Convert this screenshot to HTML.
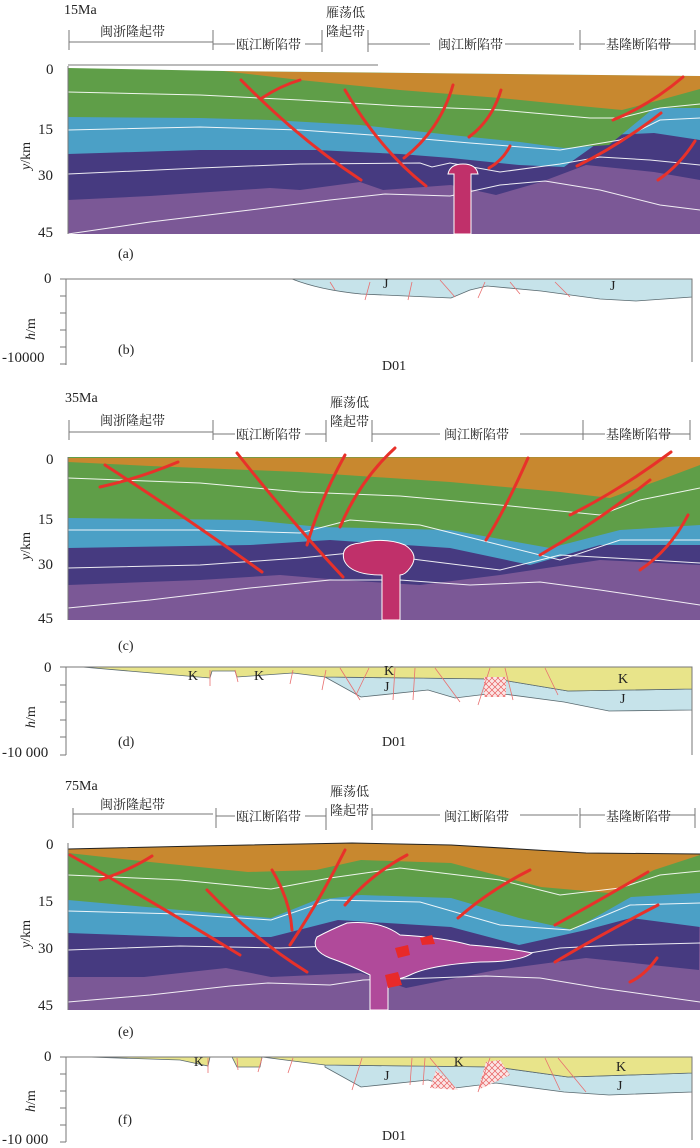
<!DOCTYPE html>
<html><head><meta charset="utf-8">
<style>
html,body{margin:0;padding:0;background:#fff;}
svg{display:block;}
text{font-family:"Liberation Serif","Noto Serif CJK SC",serif;fill:#222;}
.cn{font-size:13px;}
.tk{font-size:15px;}
.lb{font-size:14px;}
.fault{stroke:#e8312a;stroke-width:3;fill:none;stroke-linecap:round;}
.wl{stroke:#fff;stroke-width:1;fill:none;opacity:.9;}
.ax{stroke:#777;stroke-width:1;fill:none;}
.sf{stroke:#e87070;stroke-width:.8;fill:none;}
</style></head><body>
<svg width="700" height="1148" viewBox="0 0 700 1148" xmlns="http://www.w3.org/2000/svg">
<defs>
<pattern id="hx" width="6" height="6" patternUnits="userSpaceOnUse"><rect width="6" height="6" fill="#fbe6e6"/><path d="M0 0L6 6M6 0L0 6" stroke="#e86060" stroke-width=".7"/></pattern>
</defs>

<!-- ============ PANEL A header ============ -->
<text x="64" y="14" class="lb">15Ma</text>
<g class="ax" stroke="#888">
<path d="M69 30V50M213 30V50M322 30V52M368 30V52M580 30V50M695 30V50"/>
<path d="M69 42H213M213 44H235M305 44H322M368 44H430M505 44H574M580 44H605M658 44H695"/>
</g>
<text x="100" y="36" class="cn">闽浙隆起带</text>
<text x="236" y="49" class="cn">瓯江断陷带</text>
<text x="326" y="17" class="cn">雁荡低</text>
<text x="326" y="36" class="cn">隆起带</text>
<text x="438" y="49" class="cn">闽江断陷带</text>
<text x="606" y="49" class="cn">基隆断陷带</text>
<path d="M68 65H378" class="ax"/>

<!-- Section (a) -->
<g>
<rect x="68" y="67" width="632" height="167" fill="#7b5896"/>
<path d="M68 200 L150 196 L270 188 L300 190 L360 182 L383 190 L451 185 L496 195 L541 182 L586 165 L654 172 L700 180 L700 67 L68 67Z" fill="#463a80"/>
<path d="M68 154 L200 150 L316 150 L400 154 L451 158 L519 165 L564 167 L609 135 L654 133 L700 140 L700 67 L68 67Z" fill="#4ba0c6"/>
<path d="M68 117 L200 118 L270 120 L360 125 L451 135 L520 142 L564 148 L609 145 L654 108 L700 108 L700 67 L68 67Z" fill="#5f9e48"/>
<path d="M223 71 L300 80 L400 90 L500 98 L580 106 L622 110 L660 100 L700 89 L700 76 L500 74 L300 72Z" fill="#c8882f"/>
<path d="M68 68 L223 71 L700 76 L700 67 L68 67Z" fill="#fff"/>
<g class="wl">
<path d="M68 92 L200 95 L300 100 L400 106 L500 110 L590 118 L620 118 L660 108 L700 104"/>
<path d="M68 130 L200 127 L300 130 L400 137 L470 143 L560 150 L620 140 L660 120 L700 118"/>
<path d="M68 174 L200 168 L300 164 L420 163 L432 167 L450 163 L500 172 L560 164 L600 157 L650 160 L700 165"/>
<path d="M68 234 L150 222 L250 210 L330 200 L385 194 L450 196 L500 185 L545 181 L600 190 L660 205 L700 210"/>
</g>
<path d="M454 234 V174 H448 Q450 164 463 164 Q476 164 478 174 H471 V234Z" fill="#c0306a" stroke="#fff" stroke-width="1"/>
<g class="fault">
<path d="M241 80 Q300 140 361 180"/>
<path d="M262 98 Q280 86 300 80"/>
<path d="M345 90 Q380 150 426 186"/>
<path d="M453 85 Q440 130 404 158"/>
<path d="M501 90 Q492 120 469 137"/>
<path d="M510 146 Q503 160 489 168"/>
<path d="M683 77 Q650 105 613 120"/>
<path d="M661 113 Q620 145 577 166"/>
<path d="M695 141 Q680 165 658 180"/>
</g>
<path d="M68 66 V234" class="ax"/>
</g>
<text x="46" y="74" class="tk">0</text>
<text x="38" y="134" class="tk">15</text>
<text x="38" y="180" class="tk">30</text>
<text x="38" y="237" class="tk">45</text>
<text transform="translate(30 170) rotate(-90)" class="lb"><tspan font-style="italic">y</tspan>/km</text>
<text x="118" y="258" class="lb">(a)</text>

<!-- Profile (b) -->
<path d="M292 279 Q320 290 361 294 L451 298 L470 290 L487 286 L541 291 L600 299 L636 301 L692 297 L692 279Z" fill="#c6e3ea" stroke="#5a6a70" stroke-width=".8"/>
<g class="ax"><path d="M66 279 H692 V362 M66 279 V365 M60 279H66M60 296H66M60 313H66M60 330H66M60 347H66M60 364H66"/></g>
<g class="sf"><path d="M330 282 L335 290M370 282 L365 300M412 282 L408 300M440 280 L455 297M485 282 L478 298M510 282 L520 294M555 282 L570 297"/></g>
<text x="44" y="283" class="tk">0</text>
<text x="2" y="362" class="tk">-10000</text>
<text x="383" y="288" class="lb">J</text>
<text x="610" y="290" class="lb">J</text>
<text transform="translate(35 340) rotate(-90)" class="lb"><tspan font-style="italic">h</tspan>/m</text>
<text x="118" y="354" class="lb">(b)</text>
<text x="382" y="370" class="lb">D01</text>

<!-- ============ PANEL C header ============ -->
<text x="65" y="402" class="lb">35Ma</text>
<g class="ax" stroke="#888">
<path d="M69 420V440M213 420V440M326 420V442M372 420V442M583 420V440M690 420V440"/>
<path d="M69 432H213M213 434H235M305 434H326M372 434H440M520 434H583M583 434H605M660 434H690"/>
</g>
<text x="100" y="425" class="cn">闽浙隆起带</text>
<text x="236" y="439" class="cn">瓯江断陷带</text>
<text x="330" y="407" class="cn">雁荡低</text>
<text x="330" y="426" class="cn">隆起带</text>
<text x="444" y="439" class="cn">闽江断陷带</text>
<text x="606" y="439" class="cn">基隆断陷带</text>

<!-- Section (c) -->
<g>
<rect x="68" y="457" width="632" height="163" fill="#7b5896"/>
<path d="M68 585 L200 580 L280 575 L340 580 L420 585 L500 575 L600 560 L700 565 L700 457 L68 457Z" fill="#463a80"/>
<path d="M68 548 L250 545 L330 540 L450 548 L530 565 L600 545 L700 545 L700 457 L68 457Z" fill="#4ba0c6"/>
<path d="M68 518 L250 520 L320 527 L450 530 L550 548 L620 530 L700 525 L700 457 L68 457Z" fill="#5f9e48"/>
<path d="M68 458 L68 462 L150 466 L300 472 L450 482 L560 492 L610 498 L660 480 L700 465 L700 457Z" fill="#c8882f"/>
<g class="wl">
<path d="M68 478 L200 483 L300 492 L400 496 L500 505 L600 515 L640 500 L700 488"/>
<path d="M68 530 L200 530 L300 533 L350 520 L420 525 L500 545 L560 560 L620 540 L700 540"/>
<path d="M68 568 L200 565 L300 558 L360 552 L420 560 L500 570 L560 555 L650 560 L700 563"/>
<path d="M68 608 L150 600 L250 588 L330 580 L400 580 L470 585 L540 582 L600 590 L700 605"/>
</g>
<path d="M382 620 V575 Q350 575 344 560 Q340 545 360 543 Q385 537 405 545 Q420 555 410 568 Q405 575 400 575 V620Z" fill="#c0306a" stroke="#fff" stroke-width="1"/>
<g class="fault">
<path d="M105 465 Q190 520 262 572"/>
<path d="M100 487 Q140 478 178 462"/>
<path d="M237 453 Q290 520 343 577"/>
<path d="M345 455 Q320 500 307 545"/>
<path d="M395 448 Q360 480 340 527"/>
<path d="M528 458 Q505 510 486 540"/>
<path d="M671 452 Q620 490 570 515"/>
<path d="M650 480 Q600 520 540 555"/>
<path d="M688 515 Q670 550 640 570"/>
</g>
<path d="M68 457 V620" class="ax"/>
</g>
<text x="46" y="464" class="tk">0</text>
<text x="38" y="524" class="tk">15</text>
<text x="38" y="569" class="tk">30</text>
<text x="38" y="623" class="tk">45</text>
<text transform="translate(30 560) rotate(-90)" class="lb"><tspan font-style="italic">y</tspan>/km</text>
<text x="118" y="650" class="lb">(c)</text>

<!-- Profile (d) -->
<path d="M325 677 L361 697 L428 690 L455 698 L496 693 L564 702 L609 711 L692 710 L692 689 L568 691 L496 679 L325 677Z" fill="#c6e3ea" stroke="#5a6a70" stroke-width=".8"/>
<path d="M82 667 L210 678 L212 671 L235 671 L237 677 L293 673 L325 677 L496 679 L568 691 L692 689 L692 667Z" fill="#e8e48a" stroke="#5a6a70" stroke-width=".8"/>
<rect x="484" y="677" width="22" height="20" fill="url(#hx)"/>
<g class="ax"><path d="M66 667 H692 V755 M66 667 V755 M60 667H66M60 685H66M60 702H66M60 720H66M60 737H66M60 755H66"/></g>
<g class="sf"><path d="M210 670 L210 686M235 670 L238 682M293 670 L290 684M326 670 L322 690M340 668 L360 700M369 668 L356 695M395 668 L393 700M415 668 L413 700M435 668 L460 702M490 668 L478 705M505 668 L513 700M545 668 L558 695"/></g>
<text x="44" y="672" class="tk">0</text>
<text x="2" y="757" class="tk">-10 000</text>
<text x="188" y="680" class="lb">K</text>
<text x="254" y="680" class="lb">K</text>
<text x="384" y="675" class="lb">K</text>
<text x="384" y="691" class="lb">J</text>
<text x="618" y="683" class="lb">K</text>
<text x="620" y="703" class="lb">J</text>
<text transform="translate(35 728) rotate(-90)" class="lb"><tspan font-style="italic">h</tspan>/m</text>
<text x="118" y="746" class="lb">(d)</text>
<text x="382" y="746" class="lb">D01</text>

<!-- ============ PANEL E header ============ -->
<text x="65" y="790" class="lb">75Ma</text>
<g class="ax" stroke="#888">
<path d="M73 808V828M216 808V828M326 808V830M372 808V830M580 808V828M695 808V828"/>
<path d="M73 814H213M216 816H235M305 816H326M372 815H440M520 815H578M580 815H605M658 815H695"/>
</g>
<text x="100" y="809" class="cn">闽浙隆起带</text>
<text x="236" y="821" class="cn">瓯江断陷带</text>
<text x="330" y="796" class="cn">雁荡低</text>
<text x="330" y="815" class="cn">隆起带</text>
<text x="444" y="821" class="cn">闽江断陷带</text>
<text x="606" y="821" class="cn">基隆断陷带</text>

<!-- Section (e) -->
<g>
<rect x="68" y="843" width="632" height="167" fill="#7b5896"/>
<path d="M68 977 L144 977 L226 968 L271 977 L361 973 L406 988 L496 970 L586 958 L699 970 L700 843 L68 843Z" fill="#463a80"/>
<path d="M68 933 L180 937 L271 937 L338 920 L451 927 L519 945 L586 930 L631 918 L700 927 L700 843 L68 843Z" fill="#4ba0c6"/>
<path d="M68 900 L180 910 L271 918 L316 900 L361 895 L451 898 L519 918 L573 930 L631 897 L700 893 L700 843 L68 843Z" fill="#5f9e48"/>
<path d="M68 849 L68 853 L150 862 L248 872 L316 870 L361 860 L451 863 L541 887 L609 893 L654 870 L700 855 L700 853 L586 853 L451 845 L352 843 L200 846Z" fill="#c8882f"/>
<path d="M68 843 L68 849 L200 846 L352 843 L451 845 L586 853 L700 854 L700 843Z" fill="#fff"/>
<path d="M68 849 L200 846 L352 843 L451 845 L586 853 L700 854" stroke="#222" stroke-width="1" fill="none"/>
<g class="wl">
<path d="M68 875 L180 880 L271 889 L330 878 L400 868 L500 880 L560 895 L620 888 L660 875 L700 871"/>
<path d="M68 911 L180 914 L271 920 L330 900 L420 902 L500 925 L570 930 L630 905 L700 903"/>
<path d="M68 950 L180 946 L280 948 L360 945 L420 950 L500 958 L560 948 L620 945 L700 943"/>
<path d="M68 1002 L150 995 L230 986 L268 983 L330 985 L363 980 L430 978 L486 976 L540 978 L600 988 L700 1002"/>
</g>
<path d="M370 1010 V975 Q350 965 330 958 Q310 950 317 937 Q330 930 347 923 Q380 920 400 935 Q440 937 470 945 Q510 948 532 953 Q520 962 480 962 Q430 965 410 975 Q400 980 388 980 V1010Z" fill="#b04a9a" stroke="#fff" stroke-width="1"/>
<path d="M395 948 L408 945 L410 955 L398 958Z M420 938 L432 935 L435 944 L422 945Z M385 975 L398 972 L402 985 L388 988Z" fill="#e82a2a"/>
<g class="fault">
<path d="M70 855 Q150 900 240 955"/>
<path d="M100 880 Q130 870 152 856"/>
<path d="M207 890 Q255 940 307 972"/>
<path d="M272 870 Q290 900 292 930"/>
<path d="M345 850 Q320 900 290 945"/>
<path d="M407 855 Q370 875 345 905"/>
<path d="M530 870 Q490 890 458 918"/>
<path d="M648 872 Q600 900 555 925"/>
<path d="M658 905 Q600 935 555 962"/>
<path d="M657 958 Q645 975 630 982"/>
</g>
<path d="M68 843 V1010" class="ax"/>
</g>
<text x="46" y="849" class="tk">0</text>
<text x="38" y="906" class="tk">15</text>
<text x="38" y="953" class="tk">30</text>
<text x="38" y="1010" class="tk">45</text>
<text transform="translate(30 948) rotate(-90)" class="lb"><tspan font-style="italic">y</tspan>/km</text>
<text x="118" y="1036" class="lb">(e)</text>

<!-- Profile (f) -->
<path d="M325 1067 L361 1087 L428 1080 L455 1088 L496 1083 L564 1092 L609 1095 L692 1092 L692 1073 L568 1077 L496 1067 L325 1065Z" fill="#c6e3ea" stroke="#5a6a70" stroke-width=".8"/>
<path d="M88 1057 L180 1060 L208 1066 L210 1057 L232 1057 L237 1067 L260 1067 L262 1057 L293 1061 L325 1065 L496 1067 L568 1077 L692 1073 L692 1057Z" fill="#e8e48a" stroke="#5a6a70" stroke-width=".8"/>
<path d="M436 1070 L448 1080 L458 1090 L430 1088Z M486 1062 L500 1060 L510 1075 L478 1090Z" fill="url(#hx)"/>
<g class="ax"><path d="M66 1057 H692 V1140 M66 1057 V1142 M60 1057H66M60 1074H66M60 1091H66M60 1108H66M60 1125H66M60 1142H66"/></g>
<g class="sf"><path d="M208 1058 L208 1073M237 1058 L238 1070M262 1058 L258 1072M293 1058 L288 1073M362 1058 L352 1090M412 1058 L410 1085M425 1058 L423 1085M430 1058 L455 1088M490 1058 L478 1092M545 1058 L560 1090M558 1058 L586 1092"/></g>
<text x="44" y="1061" class="tk">0</text>
<text x="2" y="1144" class="tk">-10 000</text>
<text x="194" y="1066" class="cn" font-size="10">K</text>
<text x="454" y="1066" class="cn" font-size="10">K</text>
<text x="384" y="1080" class="lb">J</text>
<text x="616" y="1071" class="lb">K</text>
<text x="617" y="1090" class="lb">J</text>
<text transform="translate(35 1112) rotate(-90)" class="lb"><tspan font-style="italic">h</tspan>/m</text>
<text x="118" y="1124" class="lb">(f)</text>
<text x="382" y="1140" class="lb">D01</text>
</svg>
</body></html>
